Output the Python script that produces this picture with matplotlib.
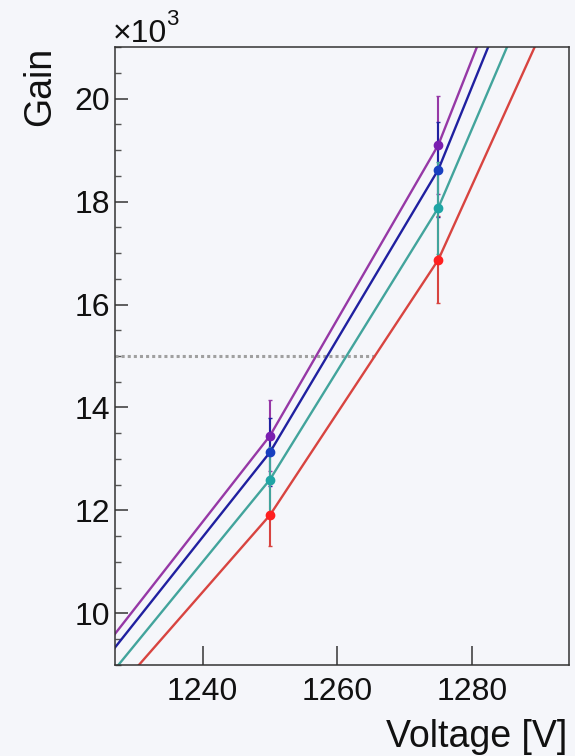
import numpy as np
import matplotlib
matplotlib.use('Agg')
import matplotlib.pyplot as plt
from matplotlib.ticker import MultipleLocator, FuncFormatter

plt.rcParams['font.family'] = ['Liberation Sans', 'DejaVu Sans']

# data (gain vs high voltage, 4 channels)
volts = [1225, 1250, 1275, 1300]
gain_purple = [9270, 13450, 19100, 27400]
gain_blue = [9010, 13130, 18620, 26660]
gain_teal = [8600, 12600, 17880, 25530]
gain_red = [8170, 11910, 16870, 24090]
err_purple = [460, 690, 950, 1370]
err_blue = [450, 660, 930, 1330]
err_teal = [430, 630, 890, 1280]
err_red = [410, 600, 840, 1200]
target_gain = 15000

bg = '#f5f6fa'
fig = plt.figure(figsize=(5.75, 7.56), dpi=100, facecolor=bg)
ax = fig.add_axes([0.2, 0.1204, 0.7896, 0.8174], facecolor=bg)

# drawing order as in the picture
series = [
    (gain_red, err_red, '#d84440', '#ff2020'),
    (gain_purple, err_purple, '#9638a6', '#7a1fb0'),
    (gain_blue, err_blue, '#2020a0', '#1840c0'),
    (gain_teal, err_teal, '#42a49c', '#1fa5a5'),
]
for g, e, c, mc in series:
    ax.errorbar(volts, g, yerr=e, fmt='-o', color=c, ecolor=c, mfc=mc, mec=mc,
                ms=6, lw=1.7, elinewidth=1.5, capsize=1.5, capthick=1)

# dotted line at target gain, up to where the lowest curve reaches it
v_end = np.interp(target_gain, gain_red, volts)
ax.plot([1227, v_end], [target_gain, target_gain], color='#a0a0a0',
        lw=2.2, ls=(0, (1, 1)))

ax.set_xlim(1227, 1294.4)
ax.set_ylim(9000, 21000)

ax.xaxis.set_major_locator(MultipleLocator(20))
ax.yaxis.set_major_locator(MultipleLocator(2000))
ax.yaxis.set_minor_locator(MultipleLocator(500))
ax.yaxis.set_major_formatter(FuncFormatter(lambda v, p: '%d' % round(v / 1000)))

ax.tick_params(axis='x', which='major', direction='in', length=14, width=1.2,
               labelsize=23, pad=8.5, color='#444', labelcolor='#111')
ax.tick_params(axis='y', which='major', direction='in', length=9, width=1.2,
               labelsize=23, pad=3.5, color='#444', labelcolor='#111')
ax.tick_params(axis='y', which='minor', direction='in', length=4.5, width=1.0,
               color='#555')
for s in ax.spines.values():
    s.set_color('#333')
    s.set_linewidth(1.1)

# axis titles, ROOT style
fig.text(567 / 575, (756 - 746.7) / 756, 'Voltage [V]', ha='right',
         va='baseline', fontsize=27, color='#111')
fig.text(50 / 575, (756 - 47) / 756, 'Gain', rotation=90, rotation_mode='anchor',
         ha='right', va='baseline', fontsize=27, color='#111')
fig.text(113 / 575, (756 - 42) / 756, '\u00d710', ha='left', va='baseline',
         fontsize=23, color='#111')
fig.text(166 / 575, (756 - 25) / 756, '3', ha='left', va='baseline',
         fontsize=16, color='#111')

fig.savefig('out.png', dpi=100, facecolor=bg)
